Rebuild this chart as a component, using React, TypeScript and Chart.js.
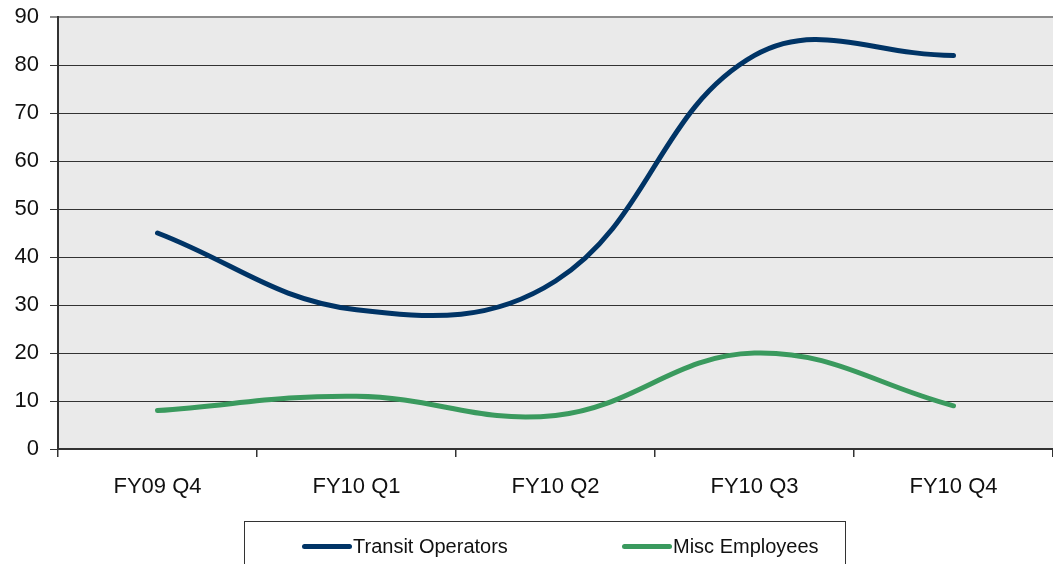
import React, { useEffect, useRef } from "react";
import { Chart, registerables } from "chart.js";

Chart.register(...registerables);

const quarters = ["FY09 Q4", "FY10 Q1", "FY10 Q2", "FY10 Q3", "FY10 Q4"];
const transitOperators = [45, 29, 35, 82, 82];
const miscEmployees = [8, 11, 7, 20, 9];
const yTicks = [0, 10, 20, 30, 40, 50, 60, 70, 80, 90];

const NAVY = "#003466";
const GREEN = "#3a9a5e";
const FONT = "'Liberation Sans', Arial, Helvetica, sans-serif";

const plotBackground = {
  id: "plotBackground",
  beforeDraw(chart: any) {
    const { ctx, chartArea } = chart;
    ctx.save();
    ctx.fillStyle = "#eaeaea";
    ctx.fillRect(chartArea.left, chartArea.top, chartArea.right - chartArea.left, chartArea.bottom - chartArea.top);
    ctx.restore();
  },
};

export default function App() {
  const canvasRef = useRef<HTMLCanvasElement>(null);

  useEffect(() => {
    if (!canvasRef.current) return;
    const chart = new Chart(canvasRef.current, {
      type: "line",
      data: {
        labels: quarters,
        datasets: [
          {
            label: "Transit Operators",
            data: transitOperators,
            borderColor: NAVY,
            backgroundColor: NAVY,
            borderWidth: 5,
            borderCapStyle: "round",
            pointRadius: 0,
            tension: 0.4,
          },
          {
            label: "Misc Employees",
            data: miscEmployees,
            borderColor: GREEN,
            backgroundColor: GREEN,
            borderWidth: 5,
            borderCapStyle: "round",
            pointRadius: 0,
            tension: 0.4,
          },
        ],
      },
      options: {
        responsive: false,
        animation: false,
        layout: { padding: { top: 17, left: 0, right: 0, bottom: 0 } },
        plugins: {
          legend: { display: false },
          tooltip: { enabled: false },
        },
        scales: {
          x: {
            offset: true,
            grid: {
              offset: true,
              drawOnChartArea: false,
              tickLength: 8,
              color: "#333",
              lineWidth: 1.5,
            },
            border: { color: "#333", width: 2 },
            ticks: {
              color: "#111",
              padding: 17,
              font: { family: FONT, size: 22 },
            },
            afterFit(scale: any) {
              scale.height = 115;
              scale.paddingLeft = 0;
              scale.paddingRight = 0;
            },
          },
          y: {
            min: 0,
            max: 90,
            afterBuildTicks(scale: any) {
              scale.ticks = yTicks.map((v) => ({ value: v }));
            },
            grid: {
              tickLength: 8,
              color: (c: any) => (c.tick && c.tick.value === 90 ? "#8c8c8c" : "#333"),
              lineWidth: (c: any) => (c.tick && c.tick.value === 90 ? 2 : 1),
            },
            border: { color: "#333", width: 2 },
            ticks: {
              color: "#111",
              padding: 11,
              font: { family: FONT, size: 22 },
            },
            afterFit(scale: any) {
              scale.width = 58;
              scale.paddingTop = 0;
              scale.paddingBottom = 0;
            },
          },
        },
      },
      plugins: [plotBackground],
    });
    return () => chart.destroy();
  }, []);

  const item = (color: string, text: string, left: number) => (
    <div style={{ position: "absolute", left, top: 12, display: "flex", alignItems: "center" }}>
      <span style={{ display: "inline-block", width: 50, height: 5, borderRadius: 3, background: color, marginRight: 1 }} />
      <span style={{ fontFamily: FONT, fontSize: 20, color: "#111", lineHeight: "24px" }}>{text}</span>
    </div>
  );

  return (
    <div style={{ position: "fixed", left: 0, top: 0, width: 1053, height: 564, background: "#fff", overflow: "hidden" }}>
      <canvas ref={canvasRef} width={1053} height={564} style={{ display: "block" }} />
      <div
        style={{
          position: "absolute",
          left: 244,
          top: 521,
          width: 602,
          height: 60,
          border: "1px solid #333",
          boxSizing: "border-box",
        }}
      >
        {item(NAVY, "Transit Operators", 57)}
        {item(GREEN, "Misc Employees", 377)}
      </div>
    </div>
  );
}
